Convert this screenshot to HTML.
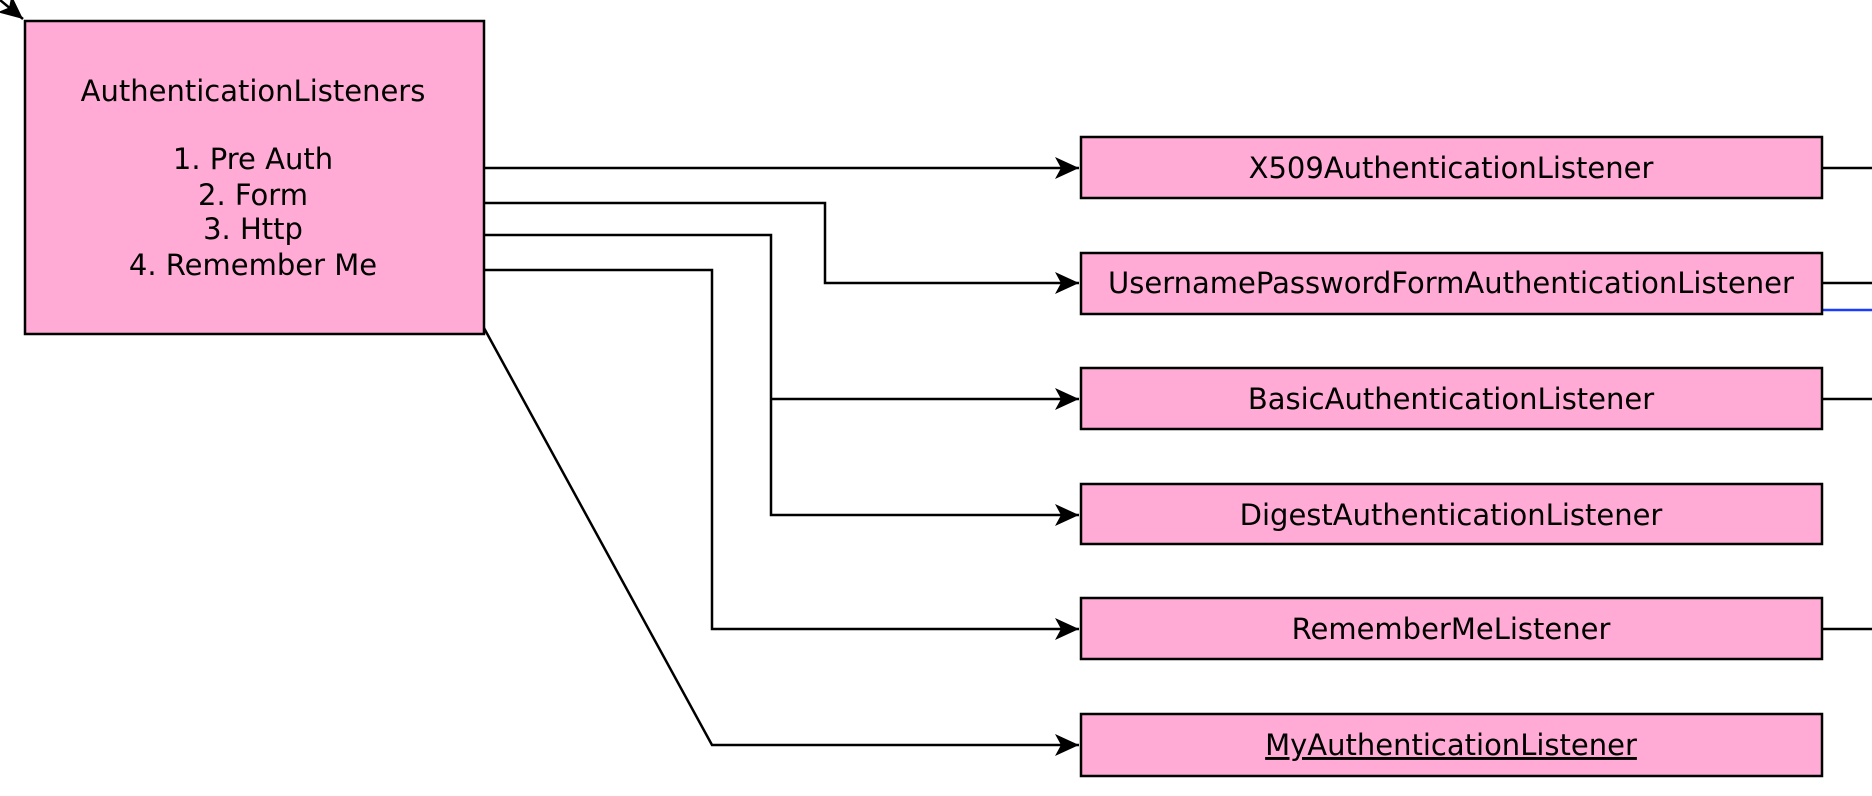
<!DOCTYPE html>
<html><head><meta charset="utf-8"><style>
html,body{margin:0;padding:0;background:#fff;}
svg{display:block;}
text{font-family:"DejaVu Sans","Liberation Sans",sans-serif;font-size:29px;fill:#000;}
</style></head><body>
<svg width="1872" height="796" viewBox="0 0 1872 796" xmlns="http://www.w3.org/2000/svg">
<defs>
<marker id="a" markerWidth="26" markerHeight="22" refX="24" refY="11" orient="auto" markerUnits="userSpaceOnUse">
<path d="M0,0 L24,11 L0,22 L6,11 Z" fill="#000"/>
</marker>
</defs>
<g fill="none" stroke="#000" stroke-width="2.5">
<path d="M484,168 L1079,168" marker-end="url(#a)"/>
<path d="M484,203 L825,203 L825,283 L1079,283" marker-end="url(#a)"/>
<path d="M484,235 L771,235 L771,515 L1079,515" marker-end="url(#a)"/>
<path d="M771,399 L1079,399" marker-end="url(#a)"/>
<path d="M484,270 L712,270 L712,629 L1079,629" marker-end="url(#a)"/>
<path d="M484,328 L712,745 L1079,745" marker-end="url(#a)"/>
<path d="M0,0 L23,19" marker-end="url(#a)"/>
<path d="M1822,168 L1872,168"/>
<path d="M1822,283 L1872,283"/>
<path d="M1822,399 L1872,399"/>
<path d="M1822,629 L1872,629"/>
</g>
<path d="M1822,310 L1872,310" stroke="#1a3cff" stroke-width="2.5"/>
<g fill="#ffabd5" stroke="#000" stroke-width="2.5">
<rect x="25" y="21" width="459" height="313"/>
<rect x="1081" y="137" width="741" height="61"/>
<rect x="1081" y="253" width="741" height="61"/>
<rect x="1081" y="368" width="741" height="61"/>
<rect x="1081" y="484" width="741" height="60"/>
<rect x="1081" y="598" width="741" height="61"/>
<rect x="1081" y="714" width="741" height="62"/>
</g>
<g text-anchor="middle">
<text x="253" y="101">AuthenticationListeners</text>
<text x="253" y="169">1. Pre Auth</text>
<text x="253" y="205">2. Form</text>
<text x="253" y="239">3. Http</text>
<text x="253" y="275">4. Remember Me</text>
<text x="1451" y="178">X509AuthenticationListener</text>
<text x="1451" y="293">UsernamePasswordFormAuthenticationListener</text>
<text x="1451" y="409">BasicAuthenticationListener</text>
<text x="1451" y="525">DigestAuthenticationListener</text>
<text x="1451" y="639">RememberMeListener</text>
<text x="1451" y="755" text-decoration="underline">MyAuthenticationListener</text>
</g>
</svg>
</body></html>
